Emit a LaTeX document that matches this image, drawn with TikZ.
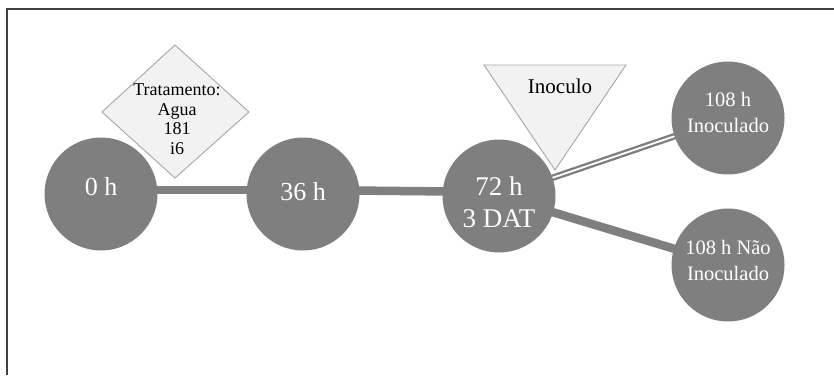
\documentclass[tikz,border=0pt]{standalone}
\usepackage{fontspec}
\setmainfont{Liberation Serif}
\usetikzlibrary{backgrounds}
\definecolor{stage}{HTML}{7F7F7F}
\definecolor{panel}{HTML}{F2F2F2}
\definecolor{panelline}{HTML}{A6A6A6}
\definecolor{frame}{HTML}{404040}
\tikzset{
  stage/.style={circle, fill=stage, draw=none, minimum size=113pt, inner sep=0pt},
  stagetext/.style={text=white, align=center, inner sep=0pt},
  link/.style={draw=stage, line width=8.5pt},
  doublelink/.style={draw=stage, line width=6.5pt},
  doublecore/.style={draw=white, line width=1.8pt},
  marker/.style={fill=panel, draw=panelline, line width=0.9pt},
  markertext/.style={text=black, align=center, inner sep=0pt},
}
\begin{document}
\begin{tikzpicture}[x=1pt, y=-1pt]
  \useasboundingbox (0,0) rectangle (834,375);
  % outer frame
  \draw[frame, line width=2pt] (7,375) -- (7,9) -- (834,9);

  % time points
  \node[stage] (h0)   at (101,194) {};
  \node[stage] (h36)  at (303,194) {};
  \node[stage] (h72)  at (499,196) {};
  \node[stage] (h108a) at (728,118) {};
  \node[stage] (h108b) at (728,265) {};

  \node[stagetext, font=\fontsize{26}{31}\selectfont] (t0)  at (101,187) {0 h};
  \node[stagetext, font=\fontsize{26}{31}\selectfont] (t36) at (303,192) {36 h};
  \node[stagetext, font=\fontsize{27}{32}\selectfont] (t72) at (499,202) {72 h\\3 DAT};
  \node[stagetext, font=\fontsize{20.5}{26}\selectfont] (t108a) at (728,112) {108 h\\Inoculado};
  \node[stagetext, font=\fontsize{20.5}{26}\selectfont] (t108b) at (728,260) {108 h Não\\Inoculado};

  % connectors behind the circles
  \begin{pgfonlayer}{background}
    \draw[link] ([yshift=4pt]h0.center) -- ([yshift=4pt]h36.center);
    \draw[link] ([yshift=4pt]h36.center) -- ([yshift=4pt]h72.center);
    \draw[link] (h72.center) -- (h108b.center);
    \draw[doublelink] (h72.center) -- (h108a.center);
    \draw[doublecore] (h72.center) -- (h108a.center);
  \end{pgfonlayer}

  % treatment marker
  \coordinate (dT) at (175,45);
  \coordinate (dR) at (249,112);
  \coordinate (dB) at (175,178);
  \coordinate (dL) at (102,112);
  \draw[marker] (dT) -- (dR) -- (dB) -- (dL) -- cycle;
  \node[markertext, font=\fontsize{18}{19.5}\selectfont] (treat) at (177,119)
    {Tratamento:\\Agua\\181\\i6};

  % inoculum marker
  \coordinate (iL) at (484,65);
  \coordinate (iR) at (626,65);
  \coordinate (iB) at (555,170);
  \draw[marker] (iL) -- (iR) -- (iB) -- cycle;
  \node[markertext, font=\fontsize{21}{25}\selectfont] (inoc) at (560,86) {Inoculo};
\end{tikzpicture}
\end{document}
